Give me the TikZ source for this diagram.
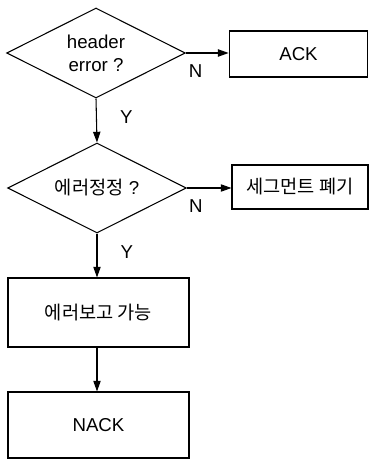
\documentclass[tikz,border=0pt]{standalone}
\usepackage{fontspec}
\setmainfont{Liberation Sans}
\newfontfamily\krfont{Noto Sans CJK KR}
\usetikzlibrary{shapes.geometric,arrows.meta}

\begin{document}
\begin{tikzpicture}[
		x=0.75pt, y=-0.75pt,
		every node/.style={font=\fontsize{14}{17}\selectfont},
		decision/.style={diamond, draw, line width=0.8pt, aspect=2, inner sep=0pt,
				minimum width=134pt, minimum height=67.5pt, align=center},
		box/.style={rectangle, draw, line width=0.8pt, align=center},
		arrow/.style={line width=0.8pt, -{Triangle[length=8pt,width=5.5pt]}}
	]
	\useasboundingbox (0,0) rectangle (369,460);

	\node[decision] (hdr) at (96,53) {header\\error ?};
	\node[box, minimum width=104pt, minimum height=34.5pt] (ack) at (298.5,54) {ACK};
	\node[decision] (fix) at (97,188) {{\krfont 에러정정} ?};
	\node[box, minimum width=102pt, minimum height=33pt] (drop) at (300,187) {\krfont 세그먼트 폐기};
	\node[box, minimum width=135.75pt, minimum height=51.75pt] (rep) at (98.5,312.5) {\krfont 에러보고 가능};
	\node[box, minimum width=135.75pt, minimum height=49.5pt] (nack) at (98.5,425) {NACK};

	\draw[arrow] (hdr.east) -- node[pos=0.23, below=5pt] {N} (hdr.east -| ack.west);
	\draw[arrow] (hdr.south) -- node[pos=0.42, right=14pt] {Y} (fix.north);
	\draw[arrow] (fix.east) -- node[pos=0.2, below=5pt] {N} (fix.east -| drop.west);
	\draw[arrow] (fix.south) -- node[pos=0.42, right=14pt] {Y} (fix.south |- rep.north);
	\draw[arrow] (fix.south |- rep.south) -- (fix.south |- nack.north);
\end{tikzpicture}
\end{document}
